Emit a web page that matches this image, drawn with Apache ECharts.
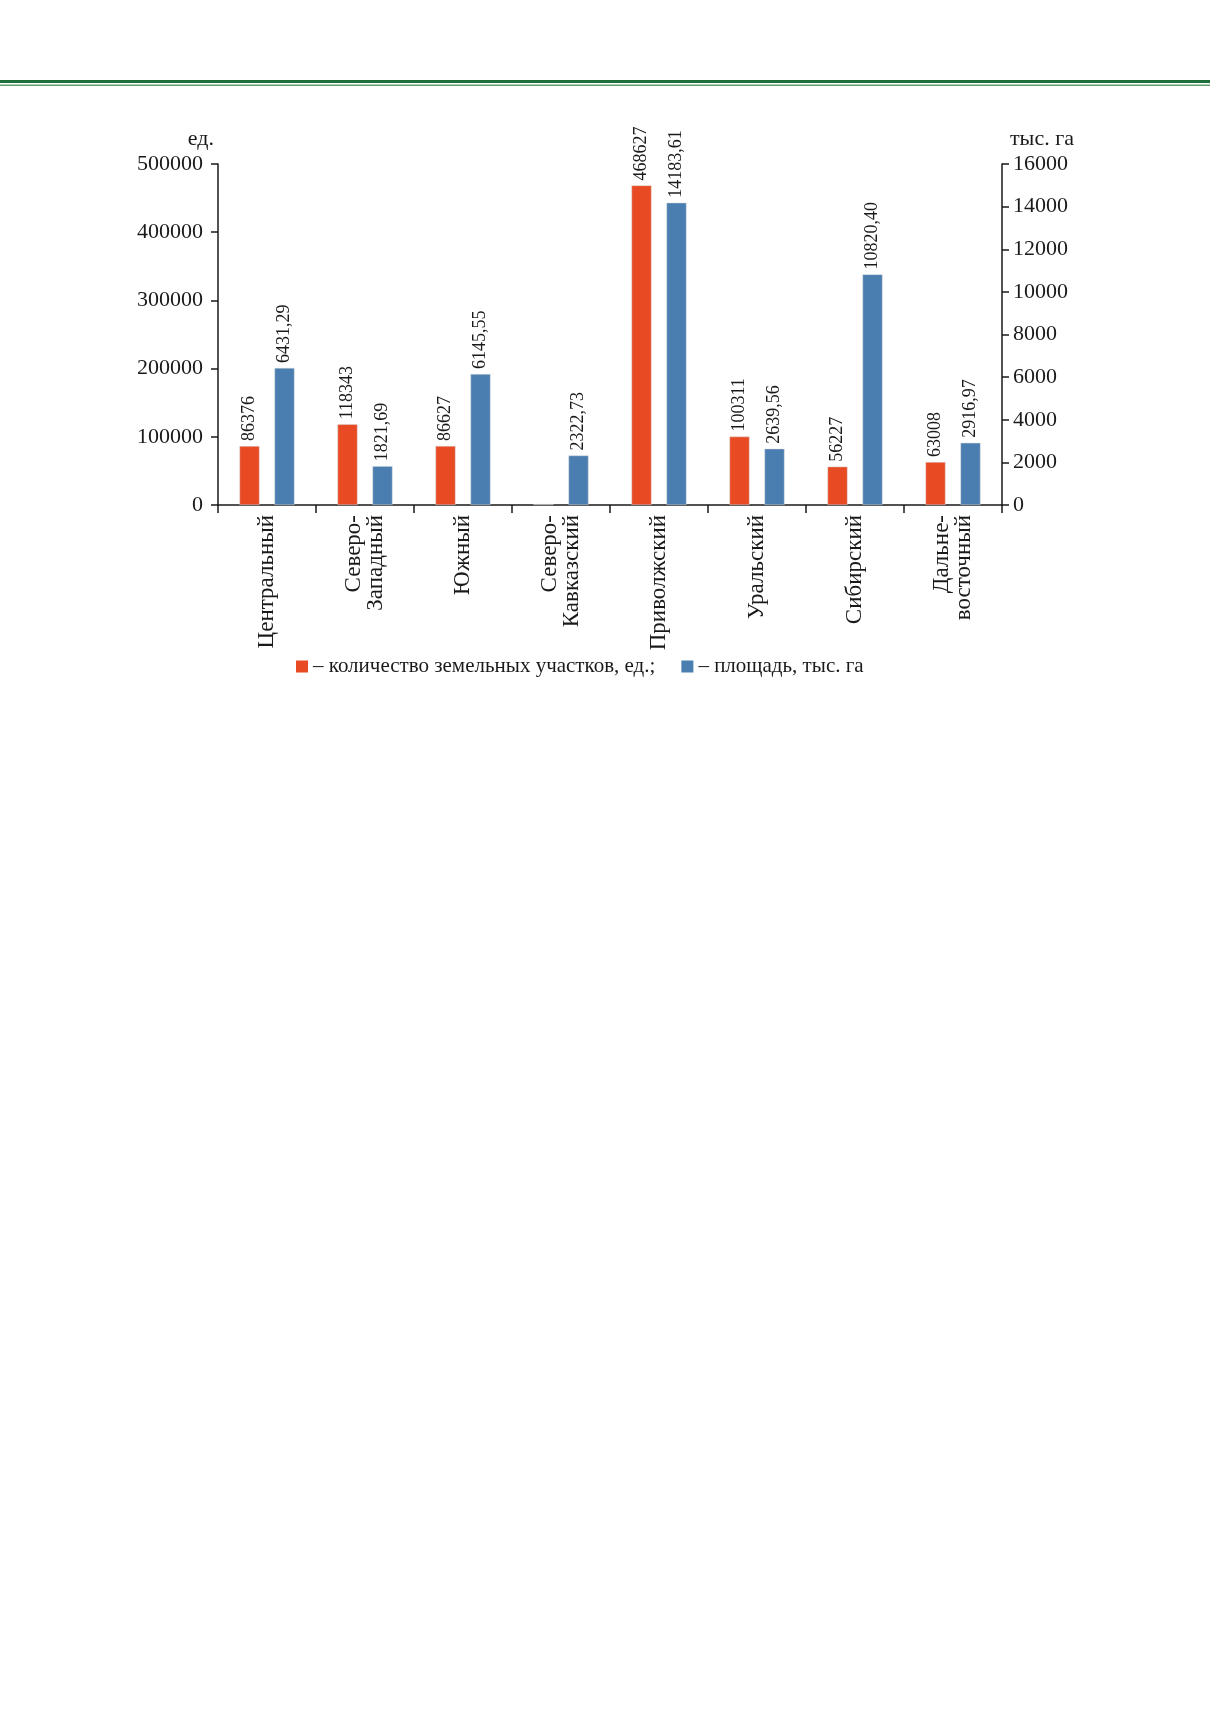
<!DOCTYPE html>
<html lang="ru">
<head>
<meta charset="UTF-8">
<title>Земельные участки по федеральным округам</title>
<script src="https://cdn.jsdelivr.net/npm/echarts@6/dist/echarts.min.js"></script>
<style>
  body { margin: 0; background: #fff; }
  #chart { width: 1210px; height: 1712px; }
</style>
</head>
<body>
<div id="chart"></div>
<script>
// federal districts
var districts = ['Центральный', 'Северо-\nЗападный', 'Южный', 'Северо-\nКавказский',
  'Приволжский', 'Уральский', 'Сибирский', 'Дальне-\nвосточный'];
// number of land plots, units (Северо-Кавказский has no value)
var plotCount = [86376, 118343, 86627, 0, 468627, 100311, 56227, 63008];
// area, thousand ha
var plotArea = [6431.29, 1821.69, 6145.55, 2322.73, 14183.61, 2639.56, 10820.40, 2916.97];

var countName = 'количество земельных участков, ед.;';
var areaName = 'площадь, тыс. га';

var serif = 'Liberation Serif';
var ink = '#1a1a1a';

var chart = echarts.init(document.getElementById('chart'));

var axisLine = { show: true, lineStyle: { color: ink, width: 1.5 } };
var plain = function (v) { return String(v); };

chart.setOption({
  animation: false,
  textStyle: { fontFamily: serif, color: ink },
  graphic: [
    { type: 'rect', shape: { x: 0, y: 80, width: 1210, height: 3 }, style: { fill: '#1d6e38' } },
    { type: 'rect', shape: { x: 0, y: 84.5, width: 1210, height: 1.5 }, style: { fill: '#5f9f6b' } }
  ],
  grid: { left: 218, right: 208, top: 164, bottom: 1207 },
  legend: {
    left: 291, top: 651,
    itemWidth: 12, itemHeight: 12, itemGap: 26,
    icon: 'rect',
    itemStyle: { borderWidth: 0 },
    textStyle: { fontFamily: serif, fontSize: 21, color: ink, padding: [0, 0, 0, 0] },
    formatter: function (n) { return '– ' + n; },
    data: [countName, areaName]
  },
  xAxis: {
    type: 'category',
    data: districts,
    axisLine: axisLine,
    axisTick: { show: true, length: 8, lineStyle: { color: ink, width: 1.5 } },
    axisLabel: {
      rotate: 90, margin: 10, interval: 0,
      fontFamily: serif, fontSize: 23, color: ink, lineHeight: 22
    }
  },
  yAxis: [
    {
      type: 'value', min: 0, max: 500000, interval: 100000,
      name: 'ед.', nameLocation: 'end', nameGap: 14,
      nameTextStyle: { fontFamily: serif, fontSize: 22, color: ink, align: 'right', padding: [0, 4, 0, 0] },
      splitLine: { show: false },
      axisLine: axisLine,
      axisTick: { show: true, length: 7, lineStyle: { color: ink, width: 1.5 } },
      axisLabel: { fontFamily: serif, fontSize: 22, color: ink, margin: 15, formatter: plain }
    },
    {
      type: 'value', min: 0, max: 16000, interval: 2000,
      name: 'тыс. га', nameLocation: 'end', nameGap: 14,
      nameTextStyle: { fontFamily: serif, fontSize: 22, color: ink, align: 'left', padding: [0, 0, 0, 8] },
      splitLine: { show: false },
      axisLine: axisLine,
      axisTick: { show: true, length: 7, lineStyle: { color: ink, width: 1.5 } },
      axisLabel: { fontFamily: serif, fontSize: 22, color: ink, margin: 11, formatter: plain }
    }
  ],
  series: [
    {
      name: countName,
      type: 'bar',
      yAxisIndex: 0,
      barWidth: 20,
      barGap: '75%',
      barMinHeight: 1,
      data: plotCount.map(function (v) {
        return v === 0 ? { value: v, itemStyle: { color: '#777' } } : v;
      }),
      itemStyle: { color: '#e84a24', borderColor: '#d8d8d8', borderWidth: 0.5 },
      label: {
        show: true, position: 'top', rotate: 90, distance: 5,
        align: 'left', verticalAlign: 'middle',
        fontFamily: serif, fontSize: 18, color: ink,
        formatter: function (p) { return p.value ? String(p.value) : ''; }
      }
    },
    {
      name: areaName,
      type: 'bar',
      yAxisIndex: 1,
      barWidth: 20,
      data: plotArea,
      itemStyle: { color: '#4a7db0', borderColor: '#d8d8d8', borderWidth: 0.5 },
      label: {
        show: true, position: 'top', rotate: 90, distance: 5,
        align: 'left', verticalAlign: 'middle',
        fontFamily: serif, fontSize: 18, color: ink,
        formatter: function (p) { return p.value.toFixed(2).replace('.', ','); }
      }
    }
  ]
});
</script>
</body>
</html>
